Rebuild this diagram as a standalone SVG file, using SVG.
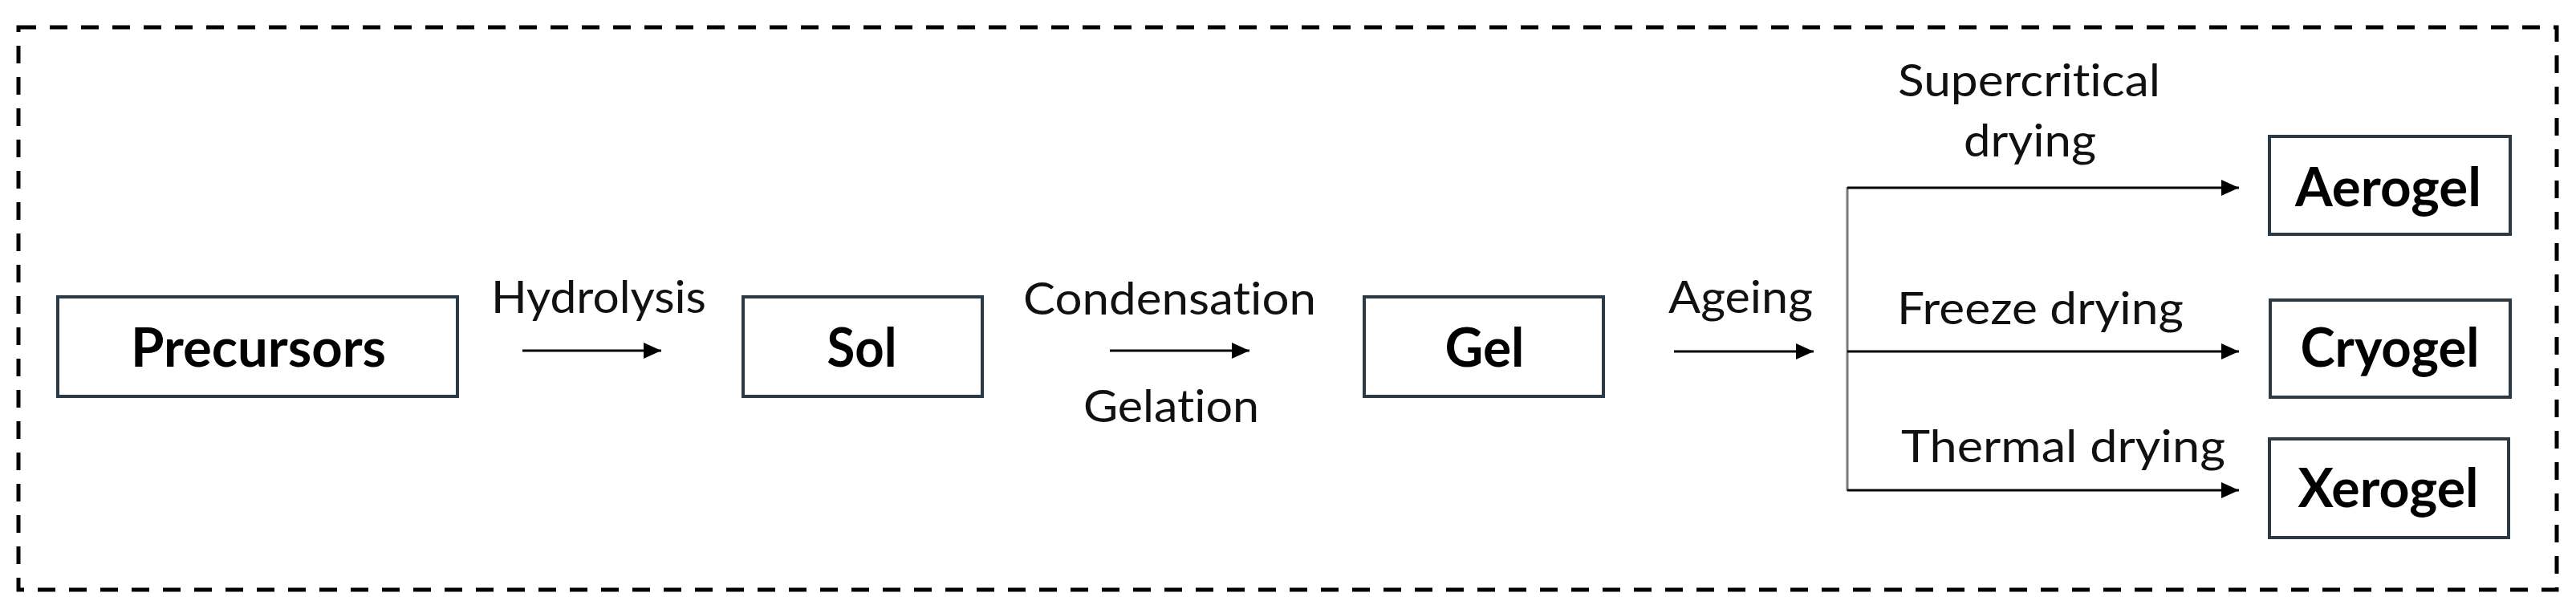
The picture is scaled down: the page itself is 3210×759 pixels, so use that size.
<svg xmlns="http://www.w3.org/2000/svg" width="3210" height="759" viewBox="0 0 3210 759">
  <style>
    .box { fill: #ffffff; stroke: #2b3a44; stroke-width: 4; }
    .lbl { font-family: Lato, "Liberation Sans", sans-serif; font-size: 56px; fill: #111111; text-anchor: start; font-variant-ligatures: none; }
    .nd { font-family: Lato, "Liberation Sans", sans-serif; font-size: 66px; font-weight: bold; fill: #000000; text-anchor: middle; font-variant-ligatures: none; }
    .conn { stroke: #000000; stroke-width: 3; fill: none; }
  </style>
  <defs>
    <marker id="ah" markerUnits="userSpaceOnUse" markerWidth="22" markerHeight="20" refX="22" refY="10" orient="auto">
      <path d="M0,0 L22,10 L0,20 z" fill="#000000"/>
    </marker>
  </defs>
  <rect width="3210" height="759" fill="#ffffff"/>
  <rect id="frame" x="23" y="34" width="3163" height="701" fill="none" stroke="#000000" stroke-width="5" stroke-dasharray="22 17"/>

  <g id="connectors">
    <line class="conn" x1="651" y1="437" x2="824" y2="437" marker-end="url(#ah)"/>
    <line class="conn" x1="1383" y1="437" x2="1557" y2="437" marker-end="url(#ah)"/>
    <line class="conn" x1="2086" y1="438" x2="2260" y2="438" marker-end="url(#ah)"/>
    <line x1="2302" y1="233" x2="2302" y2="612" stroke="#7a7a7a" stroke-width="3"/>
    <line class="conn" x1="2302" y1="234" x2="2790" y2="234" marker-end="url(#ah)"/>
    <line class="conn" x1="2302" y1="438" x2="2790" y2="438" marker-end="url(#ah)"/>
    <line class="conn" x1="2302" y1="611" x2="2790" y2="611" marker-end="url(#ah)"/>
    <text class="lbl" x="612" y="390" textLength="268" lengthAdjust="spacingAndGlyphs">Hydrolysis</text>
    <text class="lbl" x="1275" y="392" textLength="365" lengthAdjust="spacingAndGlyphs">Condensation</text>
    <text class="lbl" x="1350" y="526" textLength="219" lengthAdjust="spacingAndGlyphs">Gelation</text>
    <text class="lbl" x="2079" y="390" textLength="180" lengthAdjust="spacingAndGlyphs">Ageing</text>
    <text class="lbl" x="2365" y="120" textLength="327" lengthAdjust="spacingAndGlyphs">Supercritical</text>
    <text class="lbl" x="2447" y="195" textLength="165" lengthAdjust="spacingAndGlyphs">drying</text>
    <text class="lbl" x="2364" y="404" textLength="357" lengthAdjust="spacingAndGlyphs">Freeze drying</text>
    <text class="lbl" x="2369" y="576" textLength="404" lengthAdjust="spacingAndGlyphs">Thermal drying</text>
  </g>

  <g id="precursors">
    <rect class="box" x="72" y="370" width="498" height="124"/>
    <text class="nd" x="322" y="457" textLength="318" lengthAdjust="spacingAndGlyphs">Precursors</text>
  </g>
  <g id="sol">
    <rect class="box" x="926" y="370" width="298" height="124"/>
    <text class="nd" x="1074" y="457" textLength="87" lengthAdjust="spacingAndGlyphs">Sol</text>
  </g>
  <g id="gel">
    <rect class="box" x="1700" y="370" width="298" height="124"/>
    <text class="nd" x="1850" y="457" textLength="99" lengthAdjust="spacingAndGlyphs">Gel</text>
  </g>
  <g id="aerogel">
    <rect class="box" x="2828" y="170" width="300" height="122"/>
    <text class="nd" x="2976" y="257" textLength="232" lengthAdjust="spacingAndGlyphs">Aerogel</text>
  </g>
  <g id="cryogel">
    <rect class="box" x="2829" y="374" width="299" height="121"/>
    <text class="nd" x="2978" y="457" textLength="223" lengthAdjust="spacingAndGlyphs">Cryogel</text>
  </g>
  <g id="xerogel">
    <rect class="box" x="2828" y="547" width="298" height="123"/>
    <text class="nd" x="2976" y="632" textLength="225" lengthAdjust="spacingAndGlyphs">Xerogel</text>
  </g>
</svg>
